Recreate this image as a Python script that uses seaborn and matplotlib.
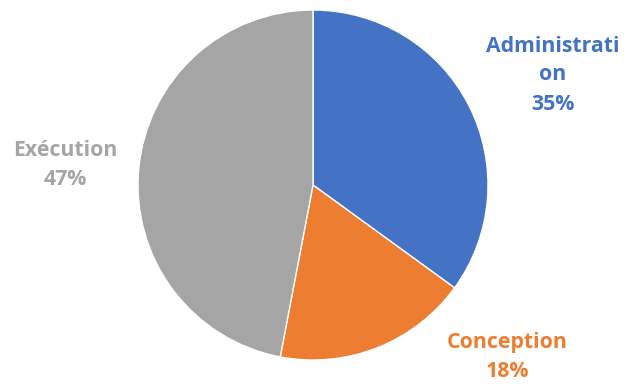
import matplotlib
matplotlib.use("Agg")
import matplotlib.pyplot as plt
import seaborn as sns

categories = ["Administration", "Conception", "Exécution"]
values = [35, 18, 47]
label_texts = ["Administrati\non\n35%", "Conception\n18%", "Exécution\n47%"]
colors = ["#4472C4", "#ED7D31", "#A5A5A5"]

sns.set_theme(style="white")
plt.rcParams['font.family'] = ['Open Sans', 'DejaVu Sans']

fig = plt.figure(figsize=(6.24, 3.88), dpi=100)
ax = fig.add_axes([0, 0, 1, 1])
ax.set_xlim(0, 624)
ax.set_ylim(-388, 0)
ax.set_aspect('equal')
ax.axis('off')

ax.pie(values, colors=colors, startangle=90, counterclock=False,
       radius=175, center=(313, -185),
       wedgeprops=dict(edgecolor='white', linewidth=1))

label_pos = [(553, -75), (507, -357), (65, -165)]
for txt, (x, y), c in zip(label_texts, label_pos, colors):
    ax.text(x, y, txt, color=c, ha='center', va='center', fontsize=15.3,
            fontweight='bold', linespacing=1.5)

ax.set_xlim(0, 624)
ax.set_ylim(-388, 0)
fig.savefig("out.png", dpi=100)
